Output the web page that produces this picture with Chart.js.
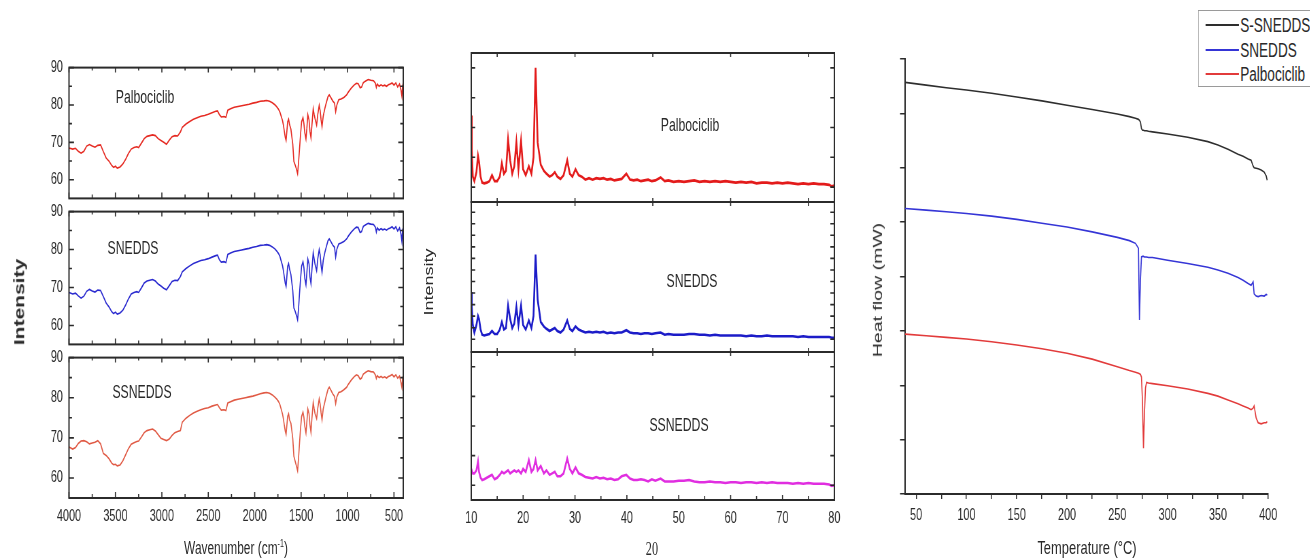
<!DOCTYPE html>
<html>
<head>
<meta charset="utf-8">
<title>Palbociclib FTIR, XRD and DSC</title>
<script src="https://cdn.jsdelivr.net/npm/chart.js"></script>
<style>
  html, body { margin: 0; padding: 0; background: #fff; overflow: hidden; width: 1310px; height: 558px; }
  /* the source figure is squeezed horizontally, so the whole sheet is drawn wide and scaled */
  #fig { position: absolute; left: 0; top: 0; width: 1927px; height: 558px;
         transform: scaleX(0.68); transform-origin: 0 0;
         font-family: "Liberation Sans", Arial, sans-serif; color: #2a2a2a; }
  #fig canvas { position: absolute; }
  .txt { position: absolute; white-space: nowrap; transform: translate(-50%, -50%); line-height: 1; font-size: 18px; }
  .rot { transform: translate(-50%, -50%) rotate(-90deg); }
  .bold { font-weight: bold; font-size: 21px; }
  .serif { font-family: "Liberation Serif", "Times New Roman", serif; }
  sup { font-size: 60%; }
  #legend { position: absolute; border: 1px solid #9a9a9a; background: #fff; }
  #legend .row { position: absolute; left: 0; height: 0; }
  #legend .swatch { position: absolute; left: 10px; width: 49px; height: 0; border-top: 2px solid; top: -1px; }
  #legend .name { position: absolute; left: 61px; top: -11px; font-size: 20px; line-height: 22px; white-space: nowrap; }
</style>
</head>
<body>
<div id="fig"></div>
<script>
// ---- FTIR ----
const ftirWavenumber = [
  4000, 3960, 3930, 3900, 3870, 3840, 3810, 3780, 3750, 3720,
  3690, 3660, 3630, 3600, 3570, 3540, 3520, 3500, 3480, 3450,
  3420, 3390, 3360, 3330, 3300, 3270, 3250, 3220, 3190, 3160,
  3130, 3100, 3070, 3040, 3010, 2980, 2950, 2920, 2890, 2860,
  2830, 2800, 2780, 2740, 2700, 2660, 2620, 2580, 2540, 2500,
  2460, 2420, 2400, 2380, 2360, 2330, 2310, 2290, 2260, 2220,
  2180, 2140, 2100, 2060, 2020, 1980, 1940, 1900, 1870, 1840,
  1810, 1780, 1760, 1745, 1730, 1715, 1700, 1690, 1680, 1670,
  1662, 1655, 1645, 1635, 1625, 1610, 1600, 1590, 1578, 1565,
  1550, 1538, 1528, 1518, 1508, 1495, 1480, 1470, 1460, 1448,
  1438, 1428, 1415, 1405, 1394, 1385, 1370, 1360, 1350, 1333,
  1320, 1305, 1295, 1285, 1275, 1262, 1244, 1230, 1210, 1197,
  1180, 1160, 1140, 1128, 1115, 1095, 1070, 1040, 1010, 990,
  960, 930, 905, 885, 865, 849, 830, 800, 777, 750,
  720, 700, 690, 680, 660, 640, 620, 600, 580, 560,
  540, 520, 500, 480, 460, 440, 425, 415, 408, 400
];
const ftirPalbociclib = [
  68.5, 68.2, 68.4, 67.6, 67.1, 67.6, 69.0, 69.4, 69.0, 68.7,
  69.2, 69.3, 67.5, 65.8, 65.0, 63.8, 63.3, 63.6, 63.1, 63.4,
  64.2, 65.5, 67.0, 68.2, 68.6, 68.8, 68.6, 69.8, 71.0, 71.6,
  71.8, 72.0, 71.8, 71.0, 70.5, 70.0, 69.5, 70.6, 71.5, 71.8,
  71.7, 72.8, 74.0, 74.9, 75.6, 76.2, 76.6, 77.0, 77.2, 77.5,
  77.9, 78.3, 78.4, 77.4, 76.8, 76.9, 76.7, 78.6, 79.0, 79.4,
  79.6, 79.8, 80.0, 80.2, 80.5, 80.7, 81.0, 81.1, 81.2, 81.0,
  80.6, 80.0, 79.4, 78.9, 78.2, 77.0, 75.8, 74.5, 72.8, 71.2,
  70.5, 72.5, 75.5, 76.2, 74.8, 73.5, 71.5, 69.5, 64.9, 64.0,
  62.8, 61.6, 64.5, 68.0, 71.5, 75.5, 76.6, 75.0, 72.5, 70.9,
  73.8, 77.4, 76.0, 73.0, 71.2, 74.2, 79.0, 77.5, 76.3, 74.6,
  77.6, 79.9, 78.5, 76.0, 74.2, 77.0, 79.1, 80.5, 82.3, 82.7,
  82.0, 81.1, 80.5, 78.2, 80.0, 81.4, 81.6, 82.0, 82.7, 83.5,
  84.5, 85.3, 85.8, 85.7, 84.6, 84.8, 86.0, 86.5, 86.8, 86.6,
  86.5, 85.8, 84.7, 85.6, 85.0, 85.4, 85.1, 85.3, 85.0, 85.4,
  85.6, 85.9, 85.3, 85.9, 84.8, 85.6, 84.0, 82.4, 85.0, 86.0
];
const ftirSnedds = [
  68.7, 68.3, 68.5, 67.8, 67.2, 67.7, 69.0, 69.5, 69.1, 68.8,
  69.3, 69.2, 67.6, 65.9, 64.9, 63.6, 63.1, 63.5, 63.0, 63.3,
  64.0, 65.4, 67.0, 68.3, 68.7, 68.9, 68.7, 69.9, 71.2, 71.7,
  71.9, 72.1, 71.7, 70.9, 70.4, 69.8, 69.4, 70.5, 71.6, 71.9,
  71.8, 72.9, 74.1, 75.0, 75.7, 76.3, 76.7, 77.1, 77.3, 77.6,
  78.0, 78.4, 78.5, 77.3, 76.7, 76.8, 76.6, 78.7, 79.1, 79.5,
  79.7, 79.9, 80.1, 80.3, 80.6, 80.8, 81.1, 81.2, 81.3, 81.1,
  80.7, 80.1, 79.5, 79.0, 78.3, 77.0, 75.7, 74.3, 72.6, 71.0,
  70.3, 72.4, 75.6, 76.3, 74.9, 73.4, 71.3, 69.2, 64.6, 63.8,
  62.6, 61.5, 64.3, 68.2, 71.6, 75.6, 76.8, 75.2, 72.3, 70.7,
  73.9, 77.5, 76.2, 72.8, 71.0, 74.3, 79.2, 77.6, 76.1, 74.4,
  77.7, 80.0, 78.6, 75.8, 74.0, 77.1, 79.3, 80.6, 82.4, 82.8,
  82.1, 81.2, 80.6, 78.0, 80.1, 81.5, 81.7, 82.1, 82.8, 83.6,
  84.6, 85.4, 85.9, 85.8, 84.5, 84.7, 86.1, 86.6, 86.9, 86.7,
  86.6, 85.9, 84.6, 85.7, 85.1, 85.5, 85.2, 85.4, 85.1, 85.5,
  85.7, 86.0, 85.4, 86.0, 84.9, 85.7, 84.1, 82.2, 85.1, 85.9
];
const ftirSsnedds = [
  67.7, 67.2, 67.6, 68.6, 69.2, 69.3, 69.0, 68.5, 68.7, 68.9,
  69.3, 68.5, 66.1, 65.6, 64.8, 63.7, 63.3, 63.4, 63.0, 63.2,
  64.3, 65.8, 67.3, 68.4, 68.8, 69.1, 69.2, 70.2, 71.3, 71.8,
  72.0, 72.2, 71.7, 70.8, 69.9, 69.6, 69.3, 69.7, 70.6, 71.3,
  71.6, 71.8, 73.9, 74.9, 75.6, 76.2, 76.6, 77.0, 77.3, 77.5,
  77.9, 78.2, 78.3, 77.5, 76.9, 77.0, 76.8, 78.7, 79.0, 79.4,
  79.6, 79.8, 80.0, 80.2, 80.4, 80.7, 81.0, 81.2, 81.3, 81.1,
  80.7, 80.1, 79.6, 79.1, 78.4, 77.2, 75.9, 74.6, 73.0, 71.6,
  70.9, 72.7, 75.4, 76.0, 74.5, 73.6, 71.8, 69.8, 65.4, 64.2,
  62.9, 61.8, 64.8, 68.4, 71.8, 75.3, 76.4, 75.1, 72.8, 71.2,
  74.0, 77.2, 76.0, 73.3, 71.4, 74.5, 78.8, 77.3, 76.0, 74.8,
  77.5, 79.7, 78.4, 76.2, 74.5, 77.2, 79.0, 80.4, 82.1, 82.6,
  81.9, 81.0, 80.3, 78.5, 80.2, 81.3, 81.5, 82.0, 82.6, 83.4,
  84.4, 85.2, 85.7, 85.5, 84.6, 84.9, 85.9, 86.4, 86.7, 86.5,
  86.4, 85.7, 84.8, 85.5, 85.0, 85.3, 85.0, 85.2, 84.9, 85.3,
  85.5, 85.8, 85.2, 85.7, 84.9, 85.4, 83.8, 82.6, 84.8, 85.6
];
const ftirXTicks = [4000, 3500, 3000, 2500, 2000, 1500, 1000, 500];
const ftirXMinor = [3750, 3250, 2750, 2250, 1750, 1250, 750];
const ftirYTicks = [60, 70, 80, 90];
const ftirYMinor = [65, 75, 85];

// ---- XRD (2 theta) ----
const xrdAngle = [
  10.0, 10.1, 10.3, 10.6, 11.0, 11.3, 11.5, 11.8, 12.1, 12.5,
  13.0, 13.5, 14.0, 14.5, 15.0, 15.5, 15.9, 16.3, 16.7, 17.1,
  17.5, 17.9, 18.3, 18.7, 19.1, 19.6, 20.0, 20.5, 21.1, 21.6,
  22.0, 22.4, 22.8, 23.4, 24.0, 24.5, 25.1, 25.6, 26.1, 26.6,
  27.2, 27.8, 28.5, 29.0, 29.5, 30.1, 30.7, 31.3, 32.0, 32.7,
  33.4, 34.1, 34.8, 35.5, 36.2, 36.9, 37.6, 38.3, 39.0, 39.9,
  40.6, 41.3, 42.0, 42.7, 43.4, 44.1, 44.8, 45.5, 46.5, 47.3,
  48.0, 49.0, 50.0, 51.0, 52.0, 53.0, 54.0, 55.0, 56.0, 57.0,
  58.0, 59.0, 60.0, 61.0, 62.0, 63.0, 64.0, 65.0, 66.0, 67.0,
  68.0, 69.0, 70.0, 71.0, 72.0, 73.0, 74.0, 75.0, 76.0, 77.0,
  78.0, 79.0, 79.5, 80.0
];
const xrdPalbociclib = [
  58, 35, 17, 14, 20, 31, 27, 17, 13, 12.5,
  13, 14, 18, 14, 14, 17, 26, 19, 21, 42,
  28, 19, 24, 40, 22, 41, 22, 18, 24, 19,
  30, 90, 40, 25, 21, 19, 17, 18, 20, 17,
  15.5, 18, 28, 19, 17, 22, 18, 17, 15, 16,
  15, 16, 15.5, 16, 15, 15.5, 14.5, 15, 15.5, 19,
  15, 14.5, 15, 14, 14.5, 15, 14, 14.5, 16.5, 14,
  14.5, 13.5, 14, 13.5, 14, 14.5, 13.5, 14, 13.5, 14,
  13.5, 14, 13.5, 13, 13.5, 13, 13.5, 12.5, 13, 13,
  12.5, 13, 12.5, 13, 12.5, 12, 12.5, 12, 12.5, 12,
  12, 11.5, 10.5, 11
];
const xrdSnedds = [
  40, 30, 18, 13, 18, 24, 22, 15, 11.5, 11,
  11.5, 12, 14, 12, 12, 15, 20, 15, 16, 31,
  22, 16, 19, 30, 18, 31, 18, 15, 21, 16,
  24, 65, 35, 20, 17, 15.5, 14, 15, 16, 14,
  13, 15, 21, 15.5, 14, 17, 15, 14, 13, 13.5,
  13, 13.5, 13, 13.5, 12.5, 13, 12.5, 13, 13, 14.5,
  13, 12.5, 12.5, 12, 12.5, 12.5, 12, 12.5, 13, 11.5,
  12, 11.5, 11.5, 11.5, 12, 12, 11.5, 11.5, 11, 11.5,
  11, 11, 11, 11, 11, 10.5, 11, 10.5, 10.5, 11,
  10.5, 10.5, 10.5, 10.5, 10.5, 10, 10.5, 10, 10, 10,
  10, 10, 9.5, 9.5
];
const xrdSsnedds = [
  19, 20, 18, 18, 20, 26, 19, 15, 13.5, 14,
  15, 16, 17, 14, 15, 17, 19, 18, 19, 20,
  18, 19, 20, 19, 20, 18, 21, 19, 27, 19,
  21, 27, 20, 23, 18, 20, 17, 18, 19, 16,
  16, 18, 28, 21, 18, 22, 18, 17, 15.5, 15,
  14.5, 15.5, 14.5, 15, 14, 14.5, 13.5, 14, 16, 17,
  14.5, 13.5, 13.5, 14, 13.5, 12.5, 14, 13, 14.5, 12.5,
  12.5, 12.5, 13, 13, 13.5, 12.5, 12, 12, 12.5, 12,
  12, 11.5, 12, 12, 11.5, 12, 12, 11.5, 12, 11.5,
  12, 11.5, 11.5, 11.5, 11, 11.5, 11, 11.5, 11, 11,
  11, 10.5, 9.5, 10
];
const xrdXTicks = [10, 20, 30, 40, 50, 60, 70, 80];
const xrdXMinor = [15, 25, 35, 45, 55, 65, 75];
const xrdEdgeTicks = [15, 30, 45, 60, 75];
const xrdYTicksA = [10, 30, 50, 70, 90];
const xrdYTicksB = [8.5, 16.2, 23.9, 31.6, 39.3, 47, 54.7, 62.4, 70.1, 77.8, 85.5, 93.2];

// ---- DSC ----
const dscTemp = [
  39, 60, 80, 100, 125, 150, 175, 200, 225, 250,
  262, 268, 271, 272, 273, 274, 275, 276, 277, 278,
  279, 281, 285, 300, 320, 340, 350, 360, 370, 375,
  380, 383, 385, 386, 388, 390, 393, 396, 398, 399
];
const dscSSnedds = [
  7.57, 7.52, 7.47, 7.43, 7.37, 7.30, 7.23, 7.15, 7.07, 6.99,
  6.94, 6.91, 6.89, 6.87, 6.84, 6.72, 6.69, 6.69, 6.68, 6.68,
  6.68, 6.67, 6.66, 6.62, 6.56, 6.48, 6.42, 6.34, 6.25, 6.21,
  6.16, 6.14, 6.03, 6.00, 5.99, 5.98, 5.96, 5.92, 5.85, 5.77
];
const dscSnedds = [
  5.25, 5.22, 5.19, 5.16, 5.11, 5.05, 4.98, 4.91, 4.82, 4.72,
  4.66, 4.61, 4.52, 3.20, 3.95, 4.36, 4.37, 4.37, 4.36, 4.36,
  4.36, 4.35, 4.35, 4.30, 4.24, 4.17, 4.12, 4.06, 3.98, 3.93,
  3.87, 3.84, 3.90, 3.68, 3.64, 3.63, 3.65, 3.64, 3.67, 3.66
];
const dscPalbociclib = [
  2.94, 2.91, 2.88, 2.85, 2.80, 2.74, 2.67, 2.59, 2.48, 2.34,
  2.27, 2.24, 2.22, 2.21, 2.20, 2.15, 1.70, 0.84, 1.50, 1.95,
  2.05, 2.04, 2.03, 1.99, 1.93, 1.85, 1.80, 1.73, 1.66, 1.62,
  1.58, 1.55, 1.58, 1.62, 1.40, 1.31, 1.29, 1.31, 1.31, 1.33
];
const dscNames = ['S-SNEDDS', 'SNEDDS', 'Palbociclib'];
const dscColors = ['#2e2e2e', '#3535d6', '#e23b3b'];
const dscXTicks = [50, 75, 100, 125, 150, 175, 200, 225, 250, 275, 300, 325, 350, 375, 400];
const dscYTicks = [0, 1, 2, 3, 4, 5, 6, 7, 8];

// ---------------------------------------------------------------
const S = 0.68;
const u = x => x / S;
const fig = document.getElementById('fig');

Chart.defaults.font.family = '"Liberation Sans", Arial, sans-serif';
Chart.defaults.font.size = 16;
Chart.defaults.color = '#2a2a2a';

// box frame with inward tick marks
const frameTicks = {
  id: 'frameTicks',
  afterDatasetsDraw(chart, args, o) {
    if (!o || !o.on) return;
    const { ctx, chartArea: a } = chart;
    const sx = chart.scales.x, sy = chart.scales.y;
    ctx.save();
    ctx.strokeStyle = '#2b2b2b';
    ctx.lineWidth = 2;
    ctx.strokeRect(a.left, a.top, a.right - a.left, a.bottom - a.top);
    ctx.lineWidth = 1.6;
    ctx.beginPath();
    const each = (list, fn) => (list || []).forEach(([vals, len]) => vals.forEach(v => fn(v, len)));
    each(o.top, (v, len) => { const p = sx.getPixelForValue(v); ctx.moveTo(p, a.top); ctx.lineTo(p, a.top + len); });
    each(o.bottom, (v, len) => { const p = sx.getPixelForValue(v); ctx.moveTo(p, a.bottom); ctx.lineTo(p, a.bottom - len); });
    each(o.sides, (v, len) => {
      const p = sy.getPixelForValue(v);
      ctx.moveTo(a.left, p); ctx.lineTo(a.left + len / S, p);
      ctx.moveTo(a.right, p); ctx.lineTo(a.right - len / S, p);
    });
    ctx.stroke();
    ctx.restore();
  }
};
Chart.register(frameTicks);

function addChart(area, pad, cfg) {
  const c = document.createElement('canvas');
  const w = Math.round(u(area.r - area.l) + pad.l + pad.r);
  const h = Math.round(area.b - area.t + pad.t + pad.b);
  c.width = w; c.height = h;
  c.style.left = (u(area.l) - pad.l) + 'px';
  c.style.top = (area.t - pad.t) + 'px';
  c.style.width = w + 'px';
  c.style.height = h + 'px';
  fig.appendChild(c);
  const o = cfg.options;
  o.responsive = false;
  o.animation = false;
  o.events = [];
  o.layout = { padding: { top: pad.t, right: pad.r, left: 0, bottom: 0 } };
  o.scales.x.afterFit = s => { s.height = pad.b; };
  o.scales.y.afterFit = s => { s.width = pad.l; };
  o.plugins = Object.assign({ legend: { display: false }, tooltip: { enabled: false } }, o.plugins);
  return new Chart(c, cfg);
}

const setTicks = vals => s => { s.ticks = vals.map(v => ({ value: v })); };

function ftirPanel(area, values, color, last) {
  addChart(area, { l: u(area.l), r: 20, t: 14, b: last ? 50 : 10 }, {
    type: 'line',
    data: { datasets: [{
      data: ftirWavenumber.map((x, i) => ({ x, y: values[i] })),
      borderColor: color, borderWidth: 1.6, pointRadius: 0
    }] },
    options: {
      plugins: { frameTicks: { on: true,
        top: [[ftirXTicks, 5], [ftirXMinor, 3]],
        bottom: [[ftirXTicks, 6], [ftirXMinor, 4]],
        sides: [[ftirYTicks, 5], [ftirYMinor, 3]] } },
      scales: {
        x: { type: 'linear', reverse: true, min: 400, max: 4000,
             afterBuildTicks: setTicks(ftirXTicks),
             grid: { display: false, drawTicks: false }, border: { display: false },
             ticks: { display: last, padding: 9, maxRotation: 0, autoSkip: false, callback: v => String(v) } },
        y: { type: 'linear', min: 55, max: 90,
             afterBuildTicks: setTicks(ftirYTicks),
             grid: { display: false, drawTicks: false }, border: { display: false },
             ticks: { padding: 9, callback: v => String(v) } }
      }
    }
  });
}

function xrdPanel(area, values, color, yTicks, last) {
  addChart(area, { l: 20, r: 24, t: 10, b: last ? 50 : 10 }, {
    type: 'line',
    data: { datasets: [{
      data: xrdAngle.map((x, i) => ({ x, y: values[i] })),
      borderColor: color, borderWidth: 2.6, pointRadius: 0
    }] },
    options: {
      plugins: { frameTicks: { on: true,
        top: [[xrdEdgeTicks, 4]],
        bottom: last ? [[xrdXTicks, 5], [xrdXMinor, 4]] : [[xrdEdgeTicks, 4]],
        sides: [[yTicks, 4]] } },
      scales: {
        x: { type: 'linear', min: 10, max: 80,
             afterBuildTicks: setTicks(xrdXTicks),
             grid: { display: false, drawTicks: false }, border: { display: false },
             ticks: { display: last, padding: 9, maxRotation: 0, autoSkip: false, callback: v => String(v) } },
        y: { type: 'linear', min: 0, max: 100,
             afterBuildTicks: setTicks(yTicks),
             grid: { display: false, drawTicks: false }, border: { display: false },
             ticks: { display: false } }
      }
    }
  });
}

ftirPanel({ l: 69, r: 403, t: 63, b: 207 }, ftirPalbociclib, '#e52a22', false);
ftirPanel({ l: 69, r: 403, t: 207, b: 353 }, ftirSnedds, '#2a2acf', false);
ftirPanel({ l: 69, r: 403, t: 353, b: 498 }, ftirSsnedds, '#e05a45', true);

xrdPanel({ l: 471, r: 834, t: 53, b: 202 }, xrdPalbociclib, '#e31b1b', xrdYTicksA, false);
xrdPanel({ l: 471, r: 834, t: 202, b: 352 }, xrdSnedds, '#1c1cc8', xrdYTicksB, false);
xrdPanel({ l: 471, r: 834, t: 352, b: 500 }, xrdSsnedds, '#e02ee0', xrdYTicksA, true);

const dscSeries = [dscSSnedds, dscSnedds, dscPalbociclib];
const axisGrid = len => ({ display: true, drawOnChartArea: false, drawTicks: true, tickLength: len, color: '#2b2b2b', lineWidth: 1.5 });
addChart({ l: 905, r: 1268, t: 59, b: 494 }, { l: 60, r: 62, t: 59, b: 64 }, {
  type: 'line',
  data: { datasets: dscSeries.map((vals, k) => ({
    label: dscNames[k],
    data: dscTemp.map((x, i) => ({ x, y: vals[i] })),
    borderColor: dscColors[k], borderWidth: 1.6, pointRadius: 0
  })) },
  options: {
    scales: {
      x: { type: 'linear', min: 39, max: 400,
           afterBuildTicks: setTicks(dscXTicks),
           grid: axisGrid(5), border: { display: true, color: '#2b2b2b', width: 2 },
           ticks: { padding: 7, maxRotation: 0, autoSkip: false, callback: v => (v % 50 === 0 ? String(v) : '') } },
      y: { type: 'linear', min: 0, max: 8,
           afterBuildTicks: setTicks(dscYTicks),
           grid: axisGrid(7.4), border: { display: true, color: '#2b2b2b', width: 2 },
           ticks: { display: false } }
    }
  }
});

// legend for the DSC panel (runs off the right edge, as in the source)
const legend = document.createElement('div');
legend.id = 'legend';
Object.assign(legend.style, { left: u(1198) + 'px', top: '10px', width: '200px', height: '75px' });
[14, 39, 63].forEach((cy, k) => {
  const row = document.createElement('div');
  row.className = 'row';
  row.style.top = cy + 'px';
  row.innerHTML = '<span class="swatch" style="border-color:' + dscColors[k] + '"></span><span class="name"></span>';
  row.querySelector('.name').textContent = dscNames[k];
  legend.appendChild(row);
});
fig.appendChild(legend);

// panel names and axis titles
const texts = [
  ['Palbociclib', 145, 97, ''], ['SNEDDS', 133, 248, ''], ['SSNEDDS', 142, 392, ''],
  ['Palbociclib', 690, 125, ''], ['SNEDDS', 692, 281, ''], ['SSNEDDS', 679, 425, ''],
  ['Intensity', 19, 302, 'rot bold'], ['Intensity', 429, 282, 'rot'],
  ['Heat flow (mW)', 878, 290, 'rot'],
  ['Wavenumber (cm<sup>-1</sup>)', 236, 548, ''], ['20', 652, 549, 'serif'],
  ['Temperature (°C)', 1087, 547, '']
];
const sizes = { 'Heat flow (mW)': 19.5, 'Wavenumber (cm<sup>-1</sup>)': 17.5, 'Temperature (°C)': 19 };
texts.forEach(([t, x, y, cls]) => {
  const d = document.createElement('div');
  d.className = 'txt ' + cls;
  d.innerHTML = t;
  d.style.left = u(x) + 'px';
  d.style.top = y + 'px';
  if (sizes[t]) d.style.fontSize = sizes[t] + 'px';
  fig.appendChild(d);
});
</script>
</body>
</html>
